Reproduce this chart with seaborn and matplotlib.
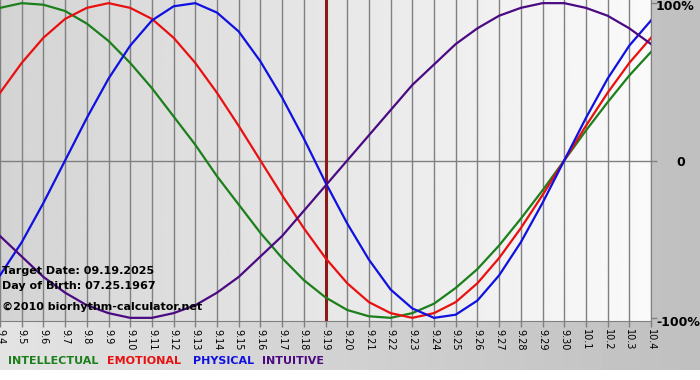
import numpy as np
import pandas as pd
import seaborn as sns
import matplotlib.pyplot as plt

# days shown on the chart (9.4 .. 10.4), target day is 9.19
days = ['9.4', '9.5', '9.6', '9.7', '9.8', '9.9', '9.10', '9.11', '9.12', '9.13',
        '9.14', '9.15', '9.16', '9.17', '9.18', '9.19', '9.20', '9.21', '9.22', '9.23',
        '9.24', '9.25', '9.26', '9.27', '9.28', '9.29', '9.30', '10.1', '10.2', '10.3', '10.4']
target_day = '9.19'

intellectual = [0.97, 1.00, 0.99, 0.95, 0.87, 0.76, 0.62, 0.46, 0.28, 0.10, -0.10, -0.28, -0.46, -0.62, -0.76,
                -0.87, -0.95, -0.99, -1.00, -0.97, -0.91, -0.81, -0.69, -0.54, -0.37, -0.19, 0.00, 0.19, 0.37, 0.54, 0.69]
emotional = [0.43, 0.62, 0.78, 0.90, 0.97, 1.00, 0.97, 0.90, 0.78, 0.62, 0.43, 0.22, 0.00, -0.22, -0.43,
             -0.62, -0.78, -0.90, -0.97, -1.00, -0.97, -0.90, -0.78, -0.62, -0.43, -0.22, 0.00, 0.22, 0.43, 0.62, 0.78]
physical = [-0.73, -0.52, -0.27, 0.00, 0.27, 0.52, 0.73, 0.89, 0.98, 1.00, 0.94, 0.82, 0.63, 0.40, 0.14,
            -0.14, -0.40, -0.63, -0.82, -0.94, -1.00, -0.98, -0.89, -0.73, -0.52, -0.27, 0.00, 0.27, 0.52, 0.73, 0.89]
intuitive = [-0.48, -0.61, -0.74, -0.84, -0.92, -0.97, -1.00, -1.00, -0.97, -0.92, -0.84, -0.74, -0.61, -0.48, -0.32,
             -0.16, 0.00, 0.16, 0.32, 0.48, 0.61, 0.74, 0.84, 0.92, 0.97, 1.00, 1.00, 0.97, 0.92, 0.84, 0.74]

names = ['INTELLECTUAL', 'EMOTIONAL', 'PHYSICAL', 'INTUITIVE']
colors = {'INTELLECTUAL': '#1B7F1B', 'EMOTIONAL': '#E81010', 'PHYSICAL': '#1010E0', 'INTUITIVE': '#4B0A82'}

rows = []
for name, vals in zip(names, [intellectual, emotional, physical, intuitive]):
    for i, v in enumerate(vals):
        rows.append({'day': i, 'value': v, 'rhythm': name})
df = pd.DataFrame(rows)

W, H = 700, 380
fig = plt.figure(figsize=(7, 3.8), dpi=100)

# figure background: horizontal gray gradient, white strip at the bottom
bg = fig.add_axes([0, 0, 1, 1], zorder=-10)
g = np.linspace(0.89, 0.75, W)
img = np.tile(g, (H, 1))
img[H - 10:, :] = 1.0
bg.imshow(img, cmap='gray', vmin=0, vmax=1, extent=(0, 1, 0, 1), aspect='auto')
bg.axis('off')

ax = fig.add_axes([0, 1 - 321 / H, 651 / W, 321 / H])
ylo, yhi = -1.02, 1.02
pg = np.tile(np.linspace(0.83, 0.98, 300), (2, 1))
ax.imshow(pg, cmap='gray', vmin=0, vmax=1, extent=(0, len(days) - 1, ylo, yhi), aspect='auto', zorder=0)

ax.set_xticks(range(len(days)))
ax.set_xticklabels(days, rotation=-90, fontsize=7)
ax.grid(axis='x', color='#808080', lw=1)
ax.axhline(0, color='#808080', lw=1, zorder=1)

sns.lineplot(data=df, x='day', y='value', hue='rhythm', palette=colors, hue_order=names,
             legend=False, lw=1.6, ax=ax, zorder=4)
ax.axvline(days.index(target_day), color='#8B1A1A', lw=2.2, zorder=3)

ax.set_xlim(0, len(days) - 1)
ax.set_ylim(ylo, yhi)
ax.set_xlabel('')
ax.set_ylabel('')
ax.yaxis.tick_right()
ax.set_yticks([-1, 0, 1])
ax.set_yticklabels([])
ax.tick_params(axis='both', color='#808080', length=4, width=1, pad=2)
for s in ['top', 'left']:
    ax.spines[s].set_visible(False)
for s in ['bottom', 'right']:
    ax.spines[s].set_color('#808080')

# right side labels
fig.text(656 / W, 1 - 7 / H, '100%', fontsize=9, fontweight='bold', va='center', ha='left')
fig.text(676 / W, 1 - 163 / H, '0', fontsize=9, fontweight='bold', va='center', ha='left')
fig.text(656 / W, 1 - 322 / H, '-100%', fontsize=9, fontweight='bold', va='center', ha='left')

# info texts
fig.text(2 / W, 1 - 271 / H, 'Target Date: 09.19.2025', fontsize=8, fontweight='bold', va='center')
fig.text(2 / W, 1 - 286 / H, 'Day of Birth: 07.25.1967', fontsize=8, fontweight='bold', va='center')
fig.text(2 / W, 1 - 307 / H, '\u00a92010 biorhythm-calculator.net', fontsize=8, fontweight='bold', va='center')

# legend
for name, x in zip(names, [8, 107, 193, 262]):
    fig.text(x / W, 1 - 361 / H, name, color=colors[name], fontsize=8, fontweight='bold', va='center')

fig.savefig('out.png', dpi=100)
